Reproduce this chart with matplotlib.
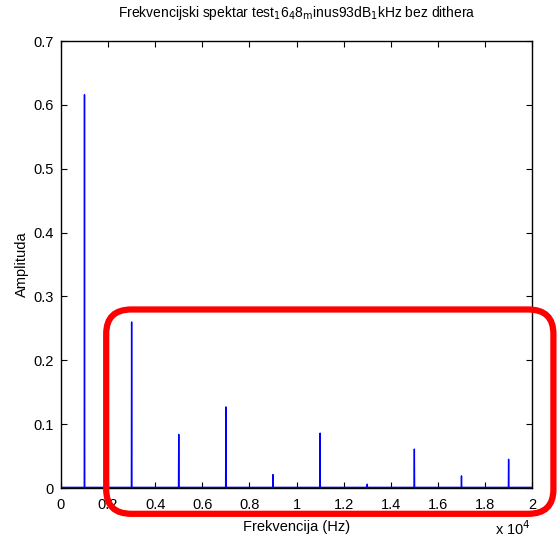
import matplotlib.pyplot as plt
import numpy as np
from matplotlib.patches import FancyBboxPatch

plt.rcParams["font.family"] = ["Liberation Sans", "DejaVu Sans"]
plt.rcParams["font.size"] = 10

# odd harmonics of the 1 kHz test tone
peak_freq = [1000, 3000, 5000, 7000, 9000, 11000, 13000, 15000, 17000, 19000]
peak_amp = [0.616, 0.260, 0.084, 0.127, 0.021, 0.086, 0.006, 0.061, 0.019, 0.045]
noise_floor = 0.001

# spectrum on a 10 Hz grid
freq = np.arange(0, 20001, 10)
amp = np.full(freq.shape, noise_floor)
for f, a in zip(peak_freq, peak_amp):
    amp[freq == f] = a

fig = plt.figure(figsize=(5.59, 5.42), dpi=100)
ax = fig.add_axes([0.109, 0.0996, 0.843, 0.8247])
ax.plot(freq / 1e4, amp, color="blue", linewidth=1.0)

ax.set_xlim(0, 2)
ax.set_ylim(0, 0.7)
ax.set_xticks(np.arange(0, 2.01, 0.2))
ax.set_xticklabels(["0", "0.2", "0.4", "0.6", "0.8", "1", "1.2", "1.4", "1.6", "1.8", "2"])
ax.set_yticks(np.arange(0, 0.71, 0.1))
ax.set_yticklabels(["0", "0.1", "0.2", "0.3", "0.4", "0.5", "0.6", "0.7"])
ax.tick_params(direction="in", top=True, right=True, length=4, width=0.8, labelsize=10.5)
ax.tick_params(axis="x", pad=7)
ax.tick_params(axis="y", pad=5)
for sp in ax.spines.values():
    sp.set_linewidth(1.0)

ax.set_xlabel("Frekvencija (Hz)", fontsize=10.5, labelpad=6)
ax.set_ylabel("Amplituda", fontsize=10.5, labelpad=3)
ax.set_title(r"Frekvencijski spektar test$_{\mathrm{1}}$6$_{\mathrm{4}}$8$_{\mathrm{m}}$inus93dB$_{\mathrm{1}}$kHz bez dithera",
             fontsize=10, pad=17)
fig.text(0.95, 0.012, r"x 10$^{4}$", ha="right", va="baseline", fontsize=10.5)

# highlight box around the higher harmonics
box = FancyBboxPatch((0.190, 0.052), 0.800, 0.377, boxstyle="round,pad=0,rounding_size=0.045",
                     transform=fig.transFigure, fill=False, edgecolor="red", linewidth=4.5,
                     clip_on=False)
fig.patches.append(box)

fig.savefig("out.png", dpi=100)
